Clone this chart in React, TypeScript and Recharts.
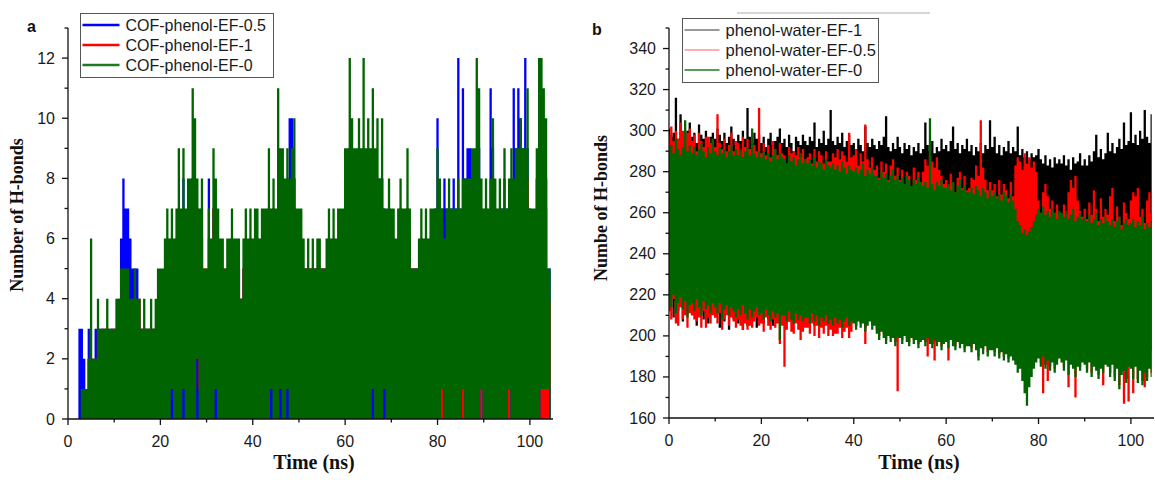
import { ComposedChart, Area, XAxis, YAxis } from "recharts";

// every series is sampled on the same 0.5 ns grid; each sample stores the
// span (floor..peak) the trajectory covers inside that slot
const SAMPLE_NS = 0.5;

const timeTicks = [0, 10, 20, 30, 40, 50, 60, 70, 80, 90, 100];
const hbondTicks = [0, 1, 2, 3, 4, 5, 6, 7, 8, 9, 10, 11, 12, 13];
const waterTicks = [
  160, 170, 180, 190, 200, 210, 220, 230, 240, 250, 260, 270, 280, 290, 300,
  310, 320, 330, 340, 350,
];

// ---- panel a: COF-phenol H-bonds (peaks per slot) ----
const cofGreenHi = [
  0, 0, 0, 0, 0, 0, 1, 1, 1, 2,
  6, 2, 2, 4, 3, 3, 3, 4, 3, 3,
  3, 4, 4, 5, 5, 5, 5, 4, 4, 5,
  4, 4, 3, 4, 3, 3, 4, 3, 4, 5,
  5, 5, 6, 7, 6, 7, 6, 7, 9, 7,
  9, 7, 8, 8, 11, 10, 8, 7, 8, 5,
  5, 7, 6, 9, 8, 7, 6, 6, 5, 6,
  6, 7, 6, 6, 6, 4, 6, 7, 6, 7,
  6, 7, 7, 6, 7, 7, 7, 9, 7, 8,
  7, 11, 9, 9, 8, 9, 8, 9, 10, 7,
  7, 7, 6, 5, 6, 5, 6, 5, 6, 6,
  5, 5, 6, 7, 6, 7, 6, 7, 7, 7,
  9, 9, 12, 10, 9, 9, 10, 9, 12, 9,
  10, 9, 11, 9, 10, 8, 10, 7, 7, 8,
  7, 7, 6, 7, 8, 7, 7, 9, 7, 5,
  5, 5, 6, 7, 6, 7, 6, 7, 7, 7,
  9, 8, 7, 6, 7, 8, 7, 7, 7, 8,
  7, 8, 8, 8, 8, 9, 9, 12, 11, 8,
  7, 8, 7, 8, 10, 8, 7, 8, 7, 9,
  7, 8, 9, 8, 9, 9, 10, 9, 9, 11,
  7, 7, 7, 9, 12, 12, 11, 10, 5, 5,
];

const cofBlueHi = [
  0, 0, 0, 0, 0, 3, 3, 2, 1, 3,
  2, 2, 3, 3, 3, 3, 3, 3, 3, 3,
  3, 3, 4, 6, 8, 7, 7, 6, 5, 5,
  5, 3, 3, 3, 3, 3, 3, 3, 3, 4,
  4, 4, 5, 6, 5, 6, 5, 6, 7, 6,
  8, 6, 7, 7, 8, 8, 7, 6, 7, 4,
  4, 8, 5, 7, 7, 6, 5, 5, 4, 5,
  5, 6, 5, 5, 5, 4, 5, 6, 5, 6,
  5, 6, 6, 5, 6, 6, 6, 7, 6, 7,
  6, 8, 8, 8, 7, 8, 10, 10, 8, 6,
  6, 6, 5, 5, 5, 5, 5, 5, 5, 5,
  5, 5, 5, 6, 5, 6, 5, 6, 6, 6,
  8, 8, 9, 9, 8, 8, 9, 8, 9, 8,
  9, 8, 9, 8, 8, 8, 8, 7, 6, 7,
  6, 6, 5, 6, 7, 6, 6, 7, 6, 5,
  5, 5, 5, 6, 5, 6, 5, 6, 6, 7,
  10, 7, 7, 8, 7, 7, 7, 8, 7, 12,
  7, 11, 8, 9, 9, 8, 8, 9, 9, 7,
  6, 7, 6, 11, 9, 7, 6, 7, 7, 8,
  7, 7, 8, 11, 9, 11, 10, 9, 12, 9,
  7, 6, 6, 8, 9, 9, 9, 8, 5, 5,
];

const cofRedHi = [
  0, 0, 0, 0, 0, 0, 1, 1, 1, 2,
  2, 2, 2, 3, 2, 3, 3, 3, 2, 3,
  3, 3, 3, 4, 3, 4, 4, 3, 4, 4,
  3, 4, 3, 3, 3, 3, 3, 3, 3, 4,
  4, 4, 5, 5, 5, 6, 5, 6, 6, 6,
  7, 6, 6, 7, 8, 7, 7, 6, 6, 5,
  5, 6, 5, 7, 6, 6, 5, 5, 5, 5,
  5, 6, 5, 5, 5, 4, 5, 6, 5, 6,
  5, 6, 6, 5, 6, 6, 6, 7, 6, 7,
  6, 8, 7, 8, 7, 8, 7, 8, 8, 6,
  6, 6, 5, 5, 5, 5, 5, 5, 5, 5,
  5, 5, 5, 6, 5, 6, 5, 6, 6, 6,
  7, 8, 9, 8, 8, 7, 8, 8, 9, 8,
  8, 8, 8, 7, 8, 7, 8, 6, 6, 7,
  6, 6, 5, 6, 7, 6, 6, 7, 6, 5,
  5, 5, 5, 6, 5, 6, 5, 6, 6, 6,
  7, 7, 6, 5, 6, 7, 6, 6, 6, 7,
  6, 7, 7, 7, 7, 7, 7, 8, 8, 7,
  6, 7, 6, 7, 8, 7, 6, 7, 6, 7,
  6, 7, 7, 7, 8, 7, 8, 7, 8, 8,
  6, 6, 6, 7, 8, 8, 8, 7, 4, 4,
];

// moments where the blue run drops to 0 while the others stay up: [ns, others' floor]
const blueDips: [number, number][] = [
  [22.5, 1], [25, 1], [28, 2], [32, 1], [44, 1], [46, 1], [47.5, 1], [66, 1], [68.5, 1],
];
// moments where only the red run touches 0
const redDips = [81, 85.5, 89.5, 95.5, 102.5, 103, 103.5, 104];

// ---- panel b: phenol-water H-bonds (upper / lower extent per slot) ----
const waterBlackHi = [
  301, 297, 299, 316, 296, 308, 298, 295, 300, 304,
  297, 299, 294, 303, 298, 296, 300, 293, 297, 299,
  296, 301, 298, 295, 299, 294, 297, 302, 296, 293,
  298, 295, 300, 296, 311, 297, 294, 299, 296, 298,
  294, 297, 292, 296, 299, 293, 295, 297, 301, 294,
  296, 292, 298, 294, 290, 297, 295, 293, 298, 295,
  293, 297, 295, 304, 292, 296, 294, 300, 293, 296,
  310, 295, 293, 297, 294, 299, 292, 295, 298, 293,
  294, 291, 296, 293, 290, 302, 294, 292, 296, 293,
  291, 295, 293, 297, 307, 292, 290, 294, 291, 297,
  292, 289, 294, 291, 293, 288, 292, 290, 294, 289,
  291, 304, 293, 290, 295, 289, 292, 290, 296, 291,
  293, 290, 295, 302, 291, 294, 289, 293, 291, 296,
  290, 293, 288, 292, 290, 294, 289, 293, 291, 305,
  292, 297, 289, 293, 288, 292, 290, 295, 289, 292,
  290, 302, 288, 291, 287, 290, 286, 289, 287, 288,
  291, 286, 284, 288, 283, 286, 282, 287, 284, 286,
  284, 288, 283, 286, 281, 287, 284, 285, 289, 283,
  286, 283, 288, 285, 290, 298, 287, 291, 286, 289,
  299, 290, 294, 289, 292, 296, 291, 304, 293, 295,
  309, 294, 298, 293, 300, 296, 310, 297, 294, 308,
];

const waterBlackLo = [
  214, 220, 209, 217, 212, 222, 207, 216, 211, 219,
  210, 216, 205, 214, 218, 208, 213, 206, 215, 211,
  209, 215, 204, 212, 207, 214, 203, 211, 208, 213,
  206, 212, 203, 209, 205, 211, 207, 210, 204, 209,
  210, 206, 212, 208, 211, 205, 213, 209, 207, 211,
  209, 212, 207, 211, 206, 210, 208, 212, 205, 209,
  210, 207, 212, 205, 209, 211, 206, 210, 208, 212,
  207, 211, 205, 209, 212, 206, 210, 208, 211, 206,
  209, 205, 211, 207, 210, 204, 208, 212, 206, 209,
  206, 210, 204, 208, 203, 207, 205, 209, 204, 207,
  204, 208, 202, 206, 203, 207, 201, 205, 208, 203,
  205, 201, 207, 203, 206, 200, 204, 208, 202, 206,
  203, 207, 200, 205, 202, 206, 199, 204, 207, 201,
  202, 198, 205, 200, 204, 199, 203, 206, 200, 203,
  200, 196, 203, 198, 201, 195, 200, 204, 197, 201,
  198, 202, 195, 200, 197, 203, 196, 199, 202, 196,
  197, 193, 199, 195, 198, 192, 196, 200, 194, 197,
  195, 199, 192, 197, 194, 198, 191, 196, 199, 193,
  194, 190, 197, 192, 195, 189, 193, 198, 191, 195,
  193, 197, 190, 195, 192, 196, 189, 194, 197, 191,
  192, 188, 195, 190, 194, 187, 193, 196, 189, 193,
];

const waterRedHi = [
  298, 302, 295, 300, 296, 304, 300, 296, 299, 301,
  295, 298, 290, 299, 295, 292, 297, 297, 294, 296,
  292, 308, 294, 291, 296, 290, 293, 299, 290, 295,
  294, 290, 297, 292, 296, 291, 299, 293, 290, 311,
  289, 294, 288, 293, 287, 295, 291, 288, 294, 289,
  288, 284, 292, 289, 290, 288, 292, 287, 291, 286,
  287, 289, 284, 291, 285, 290, 288, 284, 290, 285,
  285, 289, 287, 291, 286, 290, 288, 285, 299, 287,
  288, 291, 283, 289, 285, 303, 286, 282, 287, 281,
  283, 277, 285, 280, 284, 276, 283, 286, 278, 282,
  276, 281, 274, 280, 278, 273, 282, 276, 280, 275,
  280, 286, 283, 288, 285, 282, 287, 281, 278, 274,
  276, 273, 279, 274, 270, 277, 280, 272, 278, 271,
  272, 277, 276, 283, 278, 305, 282, 276, 271, 275,
  271, 274, 268, 276, 269, 274, 271, 267, 275, 268,
  283, 287, 285, 281, 289, 284, 287, 282, 285, 280,
  266, 260, 270, 274, 268, 262, 266, 260, 264, 259,
  258, 264, 259, 270, 276, 272, 278, 266, 261, 258,
  262, 257, 265, 259, 271, 262, 256, 267, 258, 262,
  259, 268, 272, 256, 263, 258, 254, 265, 260, 257,
  266, 270, 268, 272, 258, 262, 255, 266, 270, 260,
];

const waterRedLo = [
  212, 208, 218, 206, 205, 214, 208, 210, 204, 211,
  210, 208, 207, 209, 204, 212, 204, 209, 206, 210,
  209, 206, 211, 203, 208, 210, 205, 209, 207, 204,
  208, 205, 203, 206, 203, 205, 204, 207, 209, 205,
  206, 202, 209, 205, 203, 208, 204, 206, 196, 205,
  185, 203, 207, 202, 201, 206, 203, 198, 202, 204,
  204, 201, 206, 200, 205, 199, 204, 201, 205, 200,
  203, 200, 201, 201, 204, 199, 202, 204, 199, 202,
  208, 205, 209, 206, 208, 196, 207, 209, 205, 207,
  203, 200, 204, 201, 198, 202, 199, 201, 197, 173,
  201, 198, 202, 199, 197, 201, 198, 200, 196, 199,
  200, 197, 190, 198, 196, 188, 197, 199, 195, 198,
  199, 188, 200, 197, 195, 199, 196, 198, 194, 197,
  197, 194, 198, 195, 190, 196, 193, 197, 192, 195,
  195, 192, 196, 191, 194, 190, 193, 189, 192, 190,
  210, 205, 215, 220, 230, 235, 228, 222, 212, 205,
  191, 187, 172, 186, 178, 185, 189, 184, 188, 191,
  189, 185, 190, 175, 188, 186, 170, 187, 185, 189,
  188, 184, 189, 182, 187, 185, 181, 186, 176, 188,
  187, 182, 188, 180, 186, 176, 183, 167, 179, 168,
  186, 172, 187, 179, 185, 178, 175, 180, 186, 182,
];

const waterGreenHi = [
  290, 293, 289, 296, 291, 288, 292, 305, 290, 293,
  289, 292, 288, 291, 294, 290, 287, 292, 289, 296,
  290, 288, 292, 289, 291, 287, 290, 293, 288, 291,
  288, 291, 287, 290, 292, 288, 301, 289, 287, 290,
  287, 290, 286, 289, 285, 288, 291, 286, 289, 287,
  286, 284, 288, 285, 287, 283, 286, 289, 284, 286,
  284, 286, 283, 287, 282, 285, 284, 281, 286, 283,
  282, 284, 281, 283, 280, 285, 282, 279, 283, 281,
  280, 282, 279, 281, 284, 278, 281, 279, 282, 278,
  278, 276, 280, 277, 279, 275, 278, 281, 276, 278,
  275, 277, 274, 278, 276, 273, 276, 274, 277, 275,
  273, 275, 272, 306, 274, 271, 275, 273, 276, 272,
  272, 274, 271, 275, 270, 273, 276, 271, 273, 270,
  270, 272, 269, 273, 271, 268, 272, 270, 267, 271,
  268, 270, 267, 269, 266, 270, 268, 265, 269, 266,
  262, 256, 254, 250, 252, 249, 251, 253, 256, 259,
  262, 260, 263, 259, 261, 258, 262, 260, 257, 261,
  260, 258, 261, 257, 259, 262, 256, 258, 260, 257,
  258, 256, 259, 255, 257, 260, 254, 257, 255, 258,
  256, 254, 257, 253, 256, 258, 252, 255, 257, 254,
  255, 257, 253, 256, 254, 258, 252, 255, 253, 256,
];

const waterGreenLo = [
  218, 214, 220, 211, 216, 219, 213, 217, 209, 215,
  216, 212, 218, 214, 210, 217, 213, 215, 211, 216,
  214, 211, 216, 208, 213, 215, 210, 214, 212, 209,
  213, 210, 215, 211, 208, 213, 209, 212, 214, 210,
  211, 208, 213, 210, 207, 212, 209, 211, 198, 210,
  210, 207, 212, 208, 206, 211, 208, 210, 207, 209,
  209, 206, 211, 207, 210, 205, 209, 207, 210, 206,
  208, 205, 209, 206, 208, 204, 207, 209, 205, 207,
  206, 203, 207, 204, 206, 202, 205, 207, 203, 205,
  201, 198, 202, 199, 196, 200, 197, 199, 195, 199,
  199, 196, 200, 197, 195, 199, 196, 198, 194, 197,
  198, 195, 199, 196, 194, 198, 195, 197, 193, 196,
  197, 194, 198, 195, 193, 197, 194, 196, 192, 195,
  195, 192, 196, 193, 188, 194, 191, 195, 190, 193,
  193, 190, 194, 189, 192, 188, 191, 187, 190, 188,
  186, 182, 184, 178, 172, 166, 175, 180, 184, 187,
  189, 185, 190, 184, 188, 183, 187, 182, 186, 189,
  187, 183, 188, 181, 186, 184, 180, 185, 183, 187,
  186, 182, 187, 180, 185, 183, 179, 184, 182, 186,
  185, 180, 186, 178, 184, 174, 181, 183, 177, 185,
  184, 179, 185, 177, 183, 176, 182, 178, 184, 180,
];

const cofLegend = [
  { name: "COF-phenol-EF-0.5", color: "#0000ff", width: 2.5 },
  { name: "COF-phenol-EF-1", color: "#ff0000", width: 2.5 },
  { name: "COF-phenol-EF-0", color: "#1f7a1f", width: 2.5 },
];
const waterLegend = [
  { name: "phenol-water-EF-1", color: "#333333", width: 1 },
  { name: "phenol-water-EF-0.5", color: "#ff5a5a", width: 1 },
  { name: "phenol-water-EF-0", color: "#5c9a5c", width: 2 },
];

const cofRows = cofGreenHi.map((green, i) => {
  const t = i * SAMPLE_NS;
  const blueDip = blueDips.find((d) => d[0] === t);
  const redDip = redDips.includes(t);
  const greenFloor = blueDip ? blueDip[1] : redDip ? 1 : 0;
  const redFloor = blueDip ? blueDip[1] : redDip ? 0 : Math.min(1, cofRedHi[i]);
  return {
    t,
    blue: cofBlueHi[i],
    red: [redFloor, cofRedHi[i]],
    green: [greenFloor, green],
  };
});

const waterRows = waterGreenHi.map((green, i) => ({
  t: i * SAMPLE_NS,
  black: [waterBlackLo[i], waterBlackHi[i]],
  red: [waterRedLo[i], waterRedHi[i]],
  green: [waterGreenLo[i], green],
}));

const SANS = "'Liberation Sans', Arial, sans-serif";
const SERIF = "'Liberation Serif', 'Times New Roman', serif";

interface TickProps {
  x?: number;
  y?: number;
  payload?: { value: number };
}

function TimeTick({ x = 0, y = 0, payload }: TickProps) {
  const v = payload?.value ?? 0;
  const major = v % 20 === 0;
  return (
    <g>
      <line x1={x} x2={x} y1={y} y2={y + (major ? 6 : 3.5)} stroke="#111" strokeWidth={1.3} />
      {major && (
        <text x={x} y={y + 28} textAnchor="middle" fontFamily={SANS} fontSize={16} fill="#1a1a1a">
          {v}
        </text>
      )}
    </g>
  );
}

function makeValueTick(labelStep: number, top: number) {
  return function ValueTick({ x = 0, y = 0, payload }: TickProps) {
    const v = payload?.value ?? 0;
    const major = v % labelStep === 0 && v < top;
    return (
      <g>
        <line x1={x} x2={x - (major ? 6 : 3.5)} y1={y} y2={y} stroke="#111" strokeWidth={1.3} />
        {major && (
          <text x={x - 13} y={y + 5.5} textAnchor="end" fontFamily={SANS} fontSize={16} fill="#1a1a1a">
            {v}
          </text>
        )}
      </g>
    );
  };
}

const CofTick = makeValueTick(2, 13);
const WaterTick = makeValueTick(20, 350);

function Legend({
  x, y, w, h, rowGap, lineLen, fontSize, items,
}: {
  x: number; y: number; w: number; h: number; rowGap: number; lineLen: number; fontSize: number;
  items: { name: string; color: string; width: number }[];
}) {
  return (
    <g>
      <rect x={x} y={y} width={w} height={h} fill="#fff" stroke="#555" strokeWidth={1} />
      {items.map((it, i) => {
        const cy = y + 11.5 + i * rowGap;
        return (
          <g key={it.name}>
            <line x1={x + 2} x2={x + 2 + lineLen} y1={cy} y2={cy} stroke={it.color} strokeWidth={it.width} />
            <text x={x + lineLen + 8} y={cy + 5.5} fontFamily={SANS} fontSize={fontSize} fill="#1a1a1a">
              {it.name}
            </text>
          </g>
        );
      })}
    </g>
  );
}

export default function App() {
  return (
    <div style={{ position: "absolute", left: 0, top: 0, width: 1155, height: 480, overflow: "hidden", background: "#fff" }}>
      <div style={{ position: "absolute", left: 0, top: 0 }}>
        <ComposedChart width={600} height={480} data={cofRows} margin={{ top: 28, right: 47, bottom: 60, left: 67 }}>
          <XAxis
            dataKey="t"
            type="number"
            domain={[0, 105]}
            ticks={timeTicks}
            interval={0}
            height={1}
            tickSize={0}
            tickMargin={0}
            tickLine={false}
            tick={<TimeTick />}
            axisLine={{ stroke: "#111", strokeWidth: 1.3 }}
            allowDataOverflow
          />
          <YAxis
            type="number"
            domain={[0, 13]}
            ticks={hbondTicks}
            interval={0}
            width={1}
            tickSize={0}
            tickMargin={0}
            tickLine={false}
            tick={<CofTick />}
            axisLine={{ stroke: "#111", strokeWidth: 1.3 }}
            allowDataOverflow
          />
          <Area type="step" dataKey="blue" fill="#0000ff" fillOpacity={1} stroke="none" isAnimationActive={false} activeDot={false} />
          <Area type="step" dataKey="red" fill="#ff0000" fillOpacity={1} stroke="none" isAnimationActive={false} activeDot={false} />
          <Area type="step" dataKey="green" fill="#006400" fillOpacity={1} stroke="none" isAnimationActive={false} activeDot={false} />
        </ComposedChart>
      </div>

      <div style={{ position: "absolute", left: 600, top: 0, width: 555, height: 480, overflow: "hidden" }}>
        <ComposedChart width={560} height={480} data={waterRows} margin={{ top: 28, right: 6, bottom: 61, left: 68 }}>
          <XAxis
            dataKey="t"
            type="number"
            domain={[0, 105]}
            ticks={timeTicks}
            interval={0}
            height={1}
            tickSize={0}
            tickMargin={0}
            tickLine={false}
            tick={<TimeTick />}
            axisLine={{ stroke: "#111", strokeWidth: 1.3 }}
            allowDataOverflow
          />
          <YAxis
            type="number"
            domain={[160, 350]}
            ticks={waterTicks}
            interval={0}
            width={1}
            tickSize={0}
            tickMargin={0}
            tickLine={false}
            tick={<WaterTick />}
            axisLine={{ stroke: "#111", strokeWidth: 1.3 }}
            allowDataOverflow
          />
          <Area type="step" dataKey="black" fill="#000000" fillOpacity={1} stroke="none" isAnimationActive={false} activeDot={false} />
          <Area type="step" dataKey="red" fill="#ff0000" fillOpacity={1} stroke="none" isAnimationActive={false} activeDot={false} />
          <Area type="step" dataKey="green" fill="#006400" fillOpacity={1} stroke="none" isAnimationActive={false} activeDot={false} />
        </ComposedChart>
      </div>

      <svg width={1155} height={480} style={{ position: "absolute", left: 0, top: 0, pointerEvents: "none" }}>
        <text x={27} y={32} fontFamily={SANS} fontWeight="bold" fontSize={16} fill="#111">a</text>
        <text x={592} y={35} fontFamily={SANS} fontWeight="bold" fontSize={16} fill="#111">b</text>
        <line x1={737} x2={930} y1={13} y2={13} stroke="#c8c8c8" strokeWidth={1.5} />

        <Legend x={80.5} y={13.5} w={193} h={64} rowGap={20} lineLen={37} fontSize={16} items={cofLegend} />
        <Legend x={682.5} y={18.5} w={196} h={64} rowGap={20} lineLen={35} fontSize={16.5} items={waterLegend} />

        <text x={314} y={469} textAnchor="middle" fontFamily={SERIF} fontWeight="bold" fontSize={20} fill="#111">
          Time (ns)
        </text>
        <text x={919} y={469} textAnchor="middle" fontFamily={SERIF} fontWeight="bold" fontSize={20} fill="#111">
          Time (ns)
        </text>
        <text
          x={23}
          y={215}
          transform="rotate(-90 23 215)"
          textAnchor="middle"
          fontFamily={SERIF}
          fontWeight="bold"
          fontSize={18}
          fill="#111"
        >
          Number of H-bonds
        </text>
        <text
          x={607}
          y={208}
          transform="rotate(-90 607 208)"
          textAnchor="middle"
          fontFamily={SERIF}
          fontWeight="bold"
          fontSize={18}
          fill="#111"
        >
          Numbe of H-bonds
        </text>
      </svg>
    </div>
  );
}
